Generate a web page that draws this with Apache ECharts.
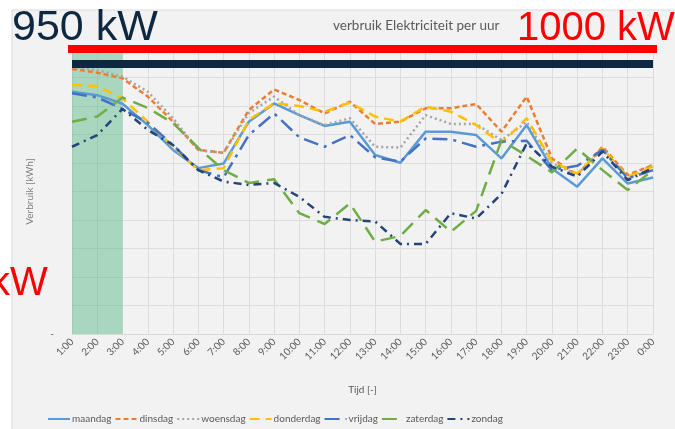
<!DOCTYPE html>
<html>
<head>
<meta charset="utf-8">
<script src="https://cdn.jsdelivr.net/npm/echarts@6/dist/echarts.min.js"></script>
<style>
  html, body { margin: 0; padding: 0; background: #ffffff; }
  #chart { width: 675px; height: 429px; }
</style>
</head>
<body>
<div id="chart"></div>
<script>
// Hourly electricity use per weekday
const hours = ['1:00', '2:00', '3:00', '4:00', '5:00', '6:00', '7:00', '8:00', '9:00', '10:00', '11:00', '12:00',
  '13:00', '14:00', '15:00', '16:00', '17:00', '18:00', '19:00', '20:00', '21:00', '22:00', '23:00', '0:00'];

const maandag   = [850, 838, 808, 733, 646, 582, 598, 745, 809, 768, 730, 745, 628, 601, 710, 710, 698, 616, 733, 581, 517, 616, 528, 549];
const dinsdag   = [930, 917, 897, 833, 745, 646, 636, 786, 858, 821, 774, 815, 737, 745, 792, 792, 807, 710, 833, 616, 558, 657, 558, 593];
const woensdag  = [937, 926, 903, 850, 757, 645, 635, 775, 833, 768, 733, 757, 657, 654, 768, 737, 737, 680, 744, 600, 560, 650, 545, 595];
const donderdag = [874, 870, 826, 745, 657, 575, 582, 751, 810, 800, 780, 812, 763, 745, 798, 780, 733, 669, 757, 605, 563, 651, 552, 587];
const vrijdag   = [845, 830, 790, 741, 663, 575, 550, 698, 774, 690, 657, 698, 620, 605, 686, 683, 657, 675, 678, 575, 590, 646, 546, 575];
const zaterdag  = [745, 763, 830, 793, 740, 653, 575, 530, 543, 424, 386, 458, 324, 344, 435, 359, 432, 680, 625, 567, 651, 575, 505, 575];
const zondag    = [657, 698, 790, 716, 663, 575, 535, 523, 530, 481, 411, 400, 395, 316, 316, 424, 405, 491, 669, 587, 552, 640, 540, 582];

// Reference levels (kW) and the shaded night window
const limitHigh = 1000;
const limitLow = 950;
const nightStart = '1:00';
const nightEnd = '3:00';

const days = [
  { name: 'maandag',   data: maandag,   color: '#5b9bd5', type: 'solid' },
  { name: 'dinsdag',   data: dinsdag,   color: '#ed7d31', type: [5, 3] },
  { name: 'woensdag',  data: woensdag,  color: '#a5a5a5', type: [2, 3] },
  { name: 'donderdag', data: donderdag, color: '#ffc000', type: [10, 6] },
  { name: 'vrijdag',   data: vrijdag,   color: '#4472c4', type: [15, 6, 3, 6] },
  { name: 'zaterdag',  data: zaterdag,  color: '#70ad47', type: [15, 8] },
  { name: 'zondag',    data: zondag,    color: '#264478', type: [8, 5, 2, 5] }
];

const empty = hours.map(() => null);
const textGray = '#595959';
const font = 'Lato, "Noto Sans", sans-serif';
const bigFont = '"Liberation Sans", Arial, sans-serif';

const chart = echarts.init(document.getElementById('chart'), null, { renderer: 'canvas' });

const series = days.map(d => ({
  name: d.name,
  type: 'line',
  data: d.data,
  symbol: 'none',
  z: 3,
  lineStyle: { color: d.color, width: 2.5, type: d.type },
  itemStyle: { color: d.color }
}));

// 950 kW level, below the shaded window
series.push({
  name: 'niveau950',
  type: 'line',
  data: empty,
  symbol: 'none',
  z: 4,
  markLine: {
    silent: true,
    symbol: 'none',
    label: { show: false },
    lineStyle: { color: '#0e2841', width: 8, type: 'solid' },
    data: [{ yAxis: limitLow }]
  }
});

// shaded night window
series.push({
  name: 'nacht',
  type: 'line',
  data: empty,
  symbol: 'none',
  z: 5,
  markArea: {
    silent: true,
    itemStyle: { color: 'rgba(96,186,140,0.5)' },
    data: [[{ xAxis: nightStart, yAxis: 0 }, { xAxis: nightEnd, yAxis: limitHigh - 15 }]]
  }
});

// 1000 kW level, on top
series.push({
  name: 'niveau1000',
  type: 'line',
  data: empty,
  symbol: 'none',
  z: 6,
  markLine: {
    silent: true,
    symbol: 'none',
    label: { show: false },
    lineStyle: { color: '#ff0000', width: 8, type: 'solid', cap: 'square' },
    data: [{ yAxis: limitHigh }]
  }
});

const option = {
  animation: false,
  backgroundColor: '#ffffff',
  textStyle: { fontFamily: font },
  graphic: [
    {
      type: 'rect', z: -10, silent: true,
      shape: { x: 12, y: 10, width: 670, height: 425 },
      style: { fill: '#f2f2f2', stroke: '#d9d9d9', lineWidth: 1 }
    },
    {
      type: 'text', z: 100, left: 333, top: 19,
      style: { text: 'verbruik Elektriciteit per uur', fill: textGray, font: '13.5px ' + font }
    },
    {
      type: 'text', z: 100, left: 12, top: 7,
      style: { text: '950 kW', fill: '#0e2841', font: '43px ' + bigFont }
    },
    {
      type: 'text', z: 100, left: 517, top: 9,
      style: { text: '1000 kW', fill: '#ff0000', font: '40px ' + bigFont }
    },
    {
      type: 'text', z: 100, left: -10, top: 264,
      style: { text: 'kW', fill: '#ff0000', font: '40px ' + bigFont }
    }
  ],
  grid: { left: 72, right: 22, top: 49, bottom: 95 },
  legend: {
    data: days.map(d => d.name),
    left: 42,
    top: 409,
    itemWidth: 22,
    itemHeight: 12,
    itemGap: 3,
    itemStyle: { opacity: 0 },
    textStyle: { color: textGray, fontSize: 10, fontFamily: font, padding: [0, 0, 0, -3] }
  },
  xAxis: {
    type: 'category',
    data: hours,
    boundaryGap: false,
    name: 'Tijd [-]',
    nameLocation: 'middle',
    nameGap: 51,
    nameTextStyle: { color: textGray, fontSize: 10, fontFamily: font },
    axisLine: { lineStyle: { color: '#d9d9d9' } },
    axisTick: { show: false },
    axisLabel: { rotate: 45, color: textGray, fontSize: 10, margin: 6, interval: 0, fontFamily: font },
    splitLine: { show: true, lineStyle: { color: '#dcdcdc', width: 1 } }
  },
  yAxis: {
    type: 'value',
    min: 0,
    max: limitHigh,
    interval: 100,
    name: 'Verbruik [kWh]',
    nameLocation: 'middle',
    nameGap: 37,
    nameTextStyle: { color: '#7f7f7f', fontSize: 10, fontFamily: font },
    axisLine: { show: false },
    axisTick: { show: false },
    axisLabel: {
      color: textGray, fontSize: 10, margin: 18,
      formatter: v => (v === 0 ? '-' : '')
    },
    splitLine: { lineStyle: { color: '#dcdcdc', width: 1 } }
  },
  series: series
};

chart.setOption(option);
</script>
</body>
</html>
